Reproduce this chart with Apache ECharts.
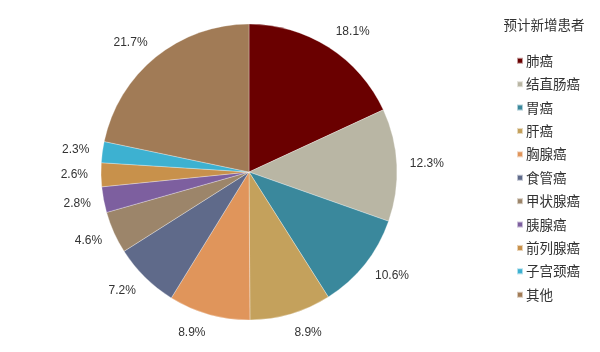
<!DOCTYPE html>
<html><head><meta charset="utf-8">
<script src="https://cdn.jsdelivr.net/npm/echarts@6/dist/echarts.min.js"></script>
<style>html,body{margin:0;padding:0;background:#fff}#c{width:600px;height:352px}</style>
</head><body><div id="c"></div>
<script>
var categories = ['肺癌','结直肠癌','胃癌','肝癌','胸腺癌','食管癌','甲状腺癌','胰腺癌','前列腺癌','子宫颈癌','其他'];
var values = [18.1,12.3,10.6,8.9,8.9,7.2,4.6,2.8,2.6,2.3,21.7];
var colors = ['#6A0000','#B9B6A4','#3A889C','#C4A15C','#E0955B','#5F6A8A','#9C856A','#7D5F9F','#C8914B','#3DB1D1','#A17B56'];
var legendTitle = '预计新增患者';

var CX = 249, CY = 172, R = 148, LABEL_R = 161;

var chart = echarts.init(document.getElementById('c'), null, {renderer:'canvas'});
var data = categories.map(function(n,i){return {name:n, value:values[i], itemStyle:{color:colors[i]}};});
chart.setOption({
  animation:false,
  title:{text:legendTitle, left:539, top:13, textAlign:'center',
    textStyle:{fontSize:13.5, fontWeight:'normal', color:'#333', fontFamily:'Noto Sans CJK SC'}},
  legend:{orient:'vertical', left:511, top:49, itemWidth:6, itemHeight:6, itemGap:9.9, icon:'rect',
    data:categories,
    textStyle:{fontSize:13.5, color:'#333', fontFamily:'Noto Sans CJK SC', padding:[0,0,0,-2]}},
  series:[{
    type:'pie', center:[CX,CY], radius:[0,R], startAngle:90, clockwise:true,
    avoidLabelOverlap:false,
    data:data,
    itemStyle:{borderColor:'rgba(255,255,255,0.6)', borderWidth:0.5},
    label:{show:true, position:'outside', formatter:function(p){return p.value.toFixed(1)+'%';},
      fontSize:12, color:'#333', fontFamily:'Liberation Sans, Arial, sans-serif'},
    labelLine:{show:true, length:13, length2:0, lineStyle:{opacity:0}},
    labelLayout:function(p){
      var pts = p.labelLinePoints;
      if(!pts) return {};
      var dx = pts[0][0]-CX, dy = pts[0][1]-CY;
      var d = Math.sqrt(dx*dx+dy*dy) || 1;
      dx/=d; dy/=d;
      var px = CX + dx*LABEL_R, py = CY + dy*LABEL_R;
      var h = p.labelRect.height;
      return {x:px, y:py + dy*h/2, align: dx>=0?'left':'right', verticalAlign:'middle'};
    },
    emphasis:{disabled:true}
  }]
});
</script></body></html>
